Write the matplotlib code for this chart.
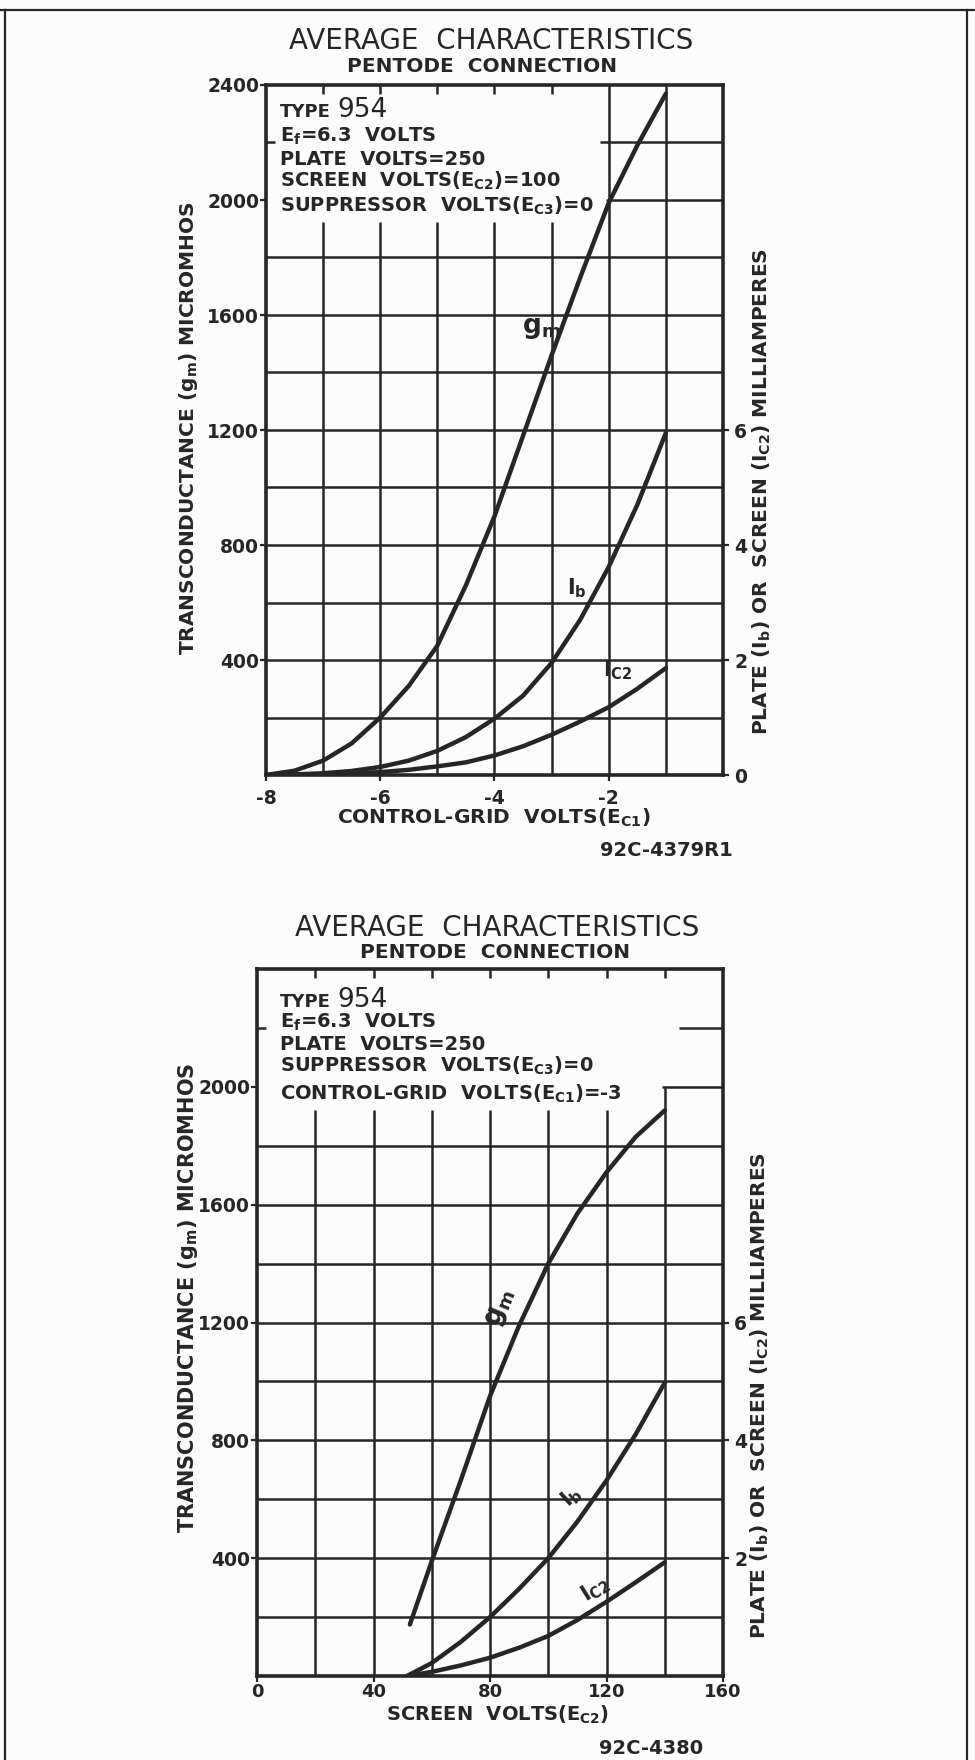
import numpy as np
import matplotlib.pyplot as plt
from matplotlib.lines import Line2D

plt.rcParams['font.family'] = 'DejaVu Sans'
plt.rcParams['font.weight'] = 'bold'
plt.rcParams['mathtext.fontset'] = 'dejavusans'
plt.rcParams['mathtext.default'] = 'bf'

INK = '#262626'
PAPER = '#fcfcfc'

# --- top chart: control-grid sweep (Ec2 = 100 V) ---
ec1 = [-8, -7.5, -7, -6.5, -6, -5.5, -5, -4.5, -4, -3.5, -3, -2.5, -2, -1.5, -1]
gm_ec1 = [0, 15, 50, 110, 200, 310, 450, 660, 900, 1180, 1460, 1730, 1990, 2190, 2370]
ib_ec1 = [0, 0.01, 0.03, 0.07, 0.14, 0.25, 0.42, 0.66, 0.98, 1.38, 1.95, 2.7, 3.62, 4.7, 5.95]   # mA
ic2_ec1 = [0, 0.005, 0.01, 0.03, 0.05, 0.09, 0.15, 0.22, 0.34, 0.5, 0.7, 0.93, 1.18, 1.5, 1.86]  # mA

# --- bottom chart: screen-volts sweep (Ec1 = -3 V) ---
ec2_gm = [52.5, 60, 70, 80, 90, 100, 110, 120, 130, 140]
gm_ec2 = [175, 390, 665, 950, 1190, 1400, 1570, 1710, 1830, 1920]
ec2_i = [51.5, 60, 70, 80, 90, 100, 110, 120, 130, 140]
ib_ec2 = [0, 0.22, 0.58, 1.0, 1.48, 2.0, 2.62, 3.32, 4.1, 4.98]   # mA
ic2_ec2 = [0, 0.07, 0.18, 0.31, 0.48, 0.68, 0.95, 1.26, 1.59, 1.93]  # mA

W, H = 975, 1760
fig = plt.figure(figsize=(W / 100, H / 100), dpi=100, facecolor=PAPER)


def rect(l, t, r, b):
    return [l / W, 1 - b / H, (r - l) / W, (b - t) / H]


def ftext(x, y, s, **kw):
    kw.setdefault('color', INK)
    fig.text(x / W, 1 - y / H, s, **kw)


def style(ax, axr):
    for sp in ax.spines.values():
        sp.set_linewidth(2.6)
        sp.set_color(INK)
    for sp in axr.spines.values():
        sp.set_visible(False)
    ax.set_facecolor('none')
    for a in (ax, axr):
        a.tick_params(direction='out', length=4, width=1.6, colors=INK,
                      labelsize=13.5, pad=1)
    ax.tick_params(axis='x', pad=6)


gk = dict(color=INK, lw=1.8, zorder=1)
ck = dict(color=INK, lw=3.2, solid_capstyle='round', solid_joinstyle='round', zorder=3)

# ================= top chart =================
ax1 = fig.add_axes(rect(266, 85, 723, 775))
ax1.set_xlim(-8, 0)
ax1.set_ylim(0, 2400)
for y in range(200, 2000, 200):
    ax1.hlines(y, -8, 0, **gk)
ax1.hlines(2000, -2.05, 0, **gk)
ax1.hlines(2200, -2.15, 0, **gk)
ax1.hlines(2200, -8, -7.85, **gk)
for x in [-7, -6, -5, -4, -3]:
    ax1.vlines(x, 0, 1925, **gk)
    ax1.vlines(x, 2370, 2400, **gk)
for x in [-2, -1]:
    ax1.vlines(x, 0, 2400, **gk)
ax1.plot(ec1, gm_ec1, **ck)
ax1.set_yticks([400, 800, 1200, 1600, 2000, 2400])
ax1.set_xticks([-8, -6, -4, -2])
ax1.set_xticklabels(['-8', '-6', '-4', '-2'])

ax1r = ax1.twinx()
ax1r.set_ylim(0, 12)
ax1r.plot(ec1, ib_ec1, **ck)
ax1r.plot(ec1, ic2_ec1, **ck)
ax1r.set_yticks([0, 2, 4, 6])
style(ax1, ax1r)
ax1r.tick_params(pad=4)

ax1.text(-3.18, 1555, '$g_m$', fontsize=19, color=INK, ha='center', va='center')
ax1.text(-2.55, 650, 'I$_b$', fontsize=15, color=INK, ha='center', va='center')
ax1.text(-1.85, 365, 'I$_{C2}$', fontsize=15, color=INK, ha='center', va='center')

ftext(491, 41, 'AVERAGE  CHARACTERISTICS', fontsize=20, fontweight='normal', ha='center', va='center')
ftext(482, 67, 'PENTODE  CONNECTION', fontsize=14.5, ha='center', va='center')
ftext(280, 117, 'TYPE', fontsize=13, va='baseline')
ftext(337, 117, '954', fontsize=19, fontweight='normal', va='baseline')
ftext(280, 142, 'E$_f$=6.3  VOLTS', fontsize=14, va='baseline')
ftext(280, 165, 'PLATE  VOLTS=250', fontsize=14, va='baseline')
ftext(280, 187, 'SCREEN  VOLTS(E$_{C2}$)=100', fontsize=14, va='baseline')
ftext(280, 212, 'SUPPRESSOR  VOLTS(E$_{C3}$)=0', fontsize=14, va='baseline')
ftext(188, 428, 'TRANSCONDUCTANCE (g$_m$) MICROMHOS', fontsize=14.5, rotation=90,
      ha='center', va='center')
ftext(762, 492, 'PLATE (I$_b$) OR  SCREEN (I$_{C2}$) MILLIAMPERES', fontsize=14.5,
      rotation=90, ha='center', va='center')
ftext(494, 818, 'CONTROL-GRID  VOLTS(E$_{C1}$)', fontsize=14.5, ha='center', va='center')
ftext(733, 850, '92C-4379R1', fontsize=14, ha='right', va='center')

# ================= bottom chart =================
ax2 = fig.add_axes(rect(257, 969, 723, 1676))
ax2.set_xlim(0, 160)
ax2.set_ylim(0, 2400)
for y in range(200, 2000, 200):
    ax2.hlines(y, 0, 160, **gk)
ax2.hlines(2000, 139, 160, **gk)
ax2.hlines(2200, 145, 160, **gk)
ax2.hlines(2200, 0, 3, **gk)
for x in [20, 40, 60, 80, 100, 120]:
    ax2.vlines(x, 0, 1920, **gk)
    ax2.vlines(x, 2370, 2400, **gk)
ax2.vlines(140, 0, 2000, **gk)
ax2.vlines(140, 2370, 2400, **gk)
ax2.plot(ec2_gm, gm_ec2, **ck)
ax2.set_yticks([400, 800, 1200, 1600, 2000])
ax2.set_xticks([0, 40, 80, 120, 160])

ax2r = ax2.twinx()
ax2r.set_ylim(0, 12)
ax2r.plot(ec2_i, ib_ec2, **ck)
ax2r.plot(ec2_i, ic2_ec2, **ck)
ax2r.set_yticks([2, 4, 6])
style(ax2, ax2r)
ax2.tick_params(axis='x', pad=1, labelsize=13)
ax2r.tick_params(pad=4)

ax2.text(83.5, 1249, '$g_m$', fontsize=19, color=INK, ha='center', va='center', rotation=68)
ax2.text(108, 608, 'I$_b$', fontsize=15, color=INK, ha='center', va='center', rotation=42)
ax2.text(116, 295, 'I$_{C2}$', fontsize=15, color=INK, ha='center', va='center', rotation=32)

ftext(497, 928, 'AVERAGE  CHARACTERISTICS', fontsize=20, fontweight='normal', ha='center', va='center')
ftext(495, 952, 'PENTODE  CONNECTION', fontsize=14.5, ha='center', va='center')
ftext(280, 1007, 'TYPE', fontsize=13, va='baseline')
ftext(337, 1007, '954', fontsize=19, fontweight='normal', va='baseline')
ftext(280, 1028, 'E$_f$=6.3  VOLTS', fontsize=14, va='baseline')
ftext(280, 1050, 'PLATE  VOLTS=250', fontsize=14, va='baseline')
ftext(280, 1072, 'SUPPRESSOR  VOLTS(E$_{C3}$)=0', fontsize=14, va='baseline')
ftext(280, 1100, 'CONTROL-GRID  VOLTS(E$_{C1}$)=-3', fontsize=14, va='baseline')
ftext(188, 1298, 'TRANSCONDUCTANCE (g$_m$) MICROMHOS', fontsize=15, rotation=90,
      ha='center', va='center')
ftext(760, 1396, 'PLATE (I$_b$) OR  SCREEN (I$_{C2}$) MILLIAMPERES', fontsize=14.5,
      rotation=90, ha='center', va='center')
ftext(498, 1721, 'SCREEN  VOLTS(E$_{C2}$)', fontsize=14, ha='center', va='baseline')
ftext(703, 1748, '92C-4380', fontsize=14, ha='right', va='center')

# sheet border
for xs, ys in [([0, W], [10, 10]), ([5, 5], [10, H]), ([967, 967], [10, H])]:
    fig.add_artist(Line2D([x / W for x in xs], [1 - y / H for y in ys],
                          transform=fig.transFigure, color=INK, lw=1.6))

fig.savefig('out.png', dpi=100, facecolor=PAPER)
